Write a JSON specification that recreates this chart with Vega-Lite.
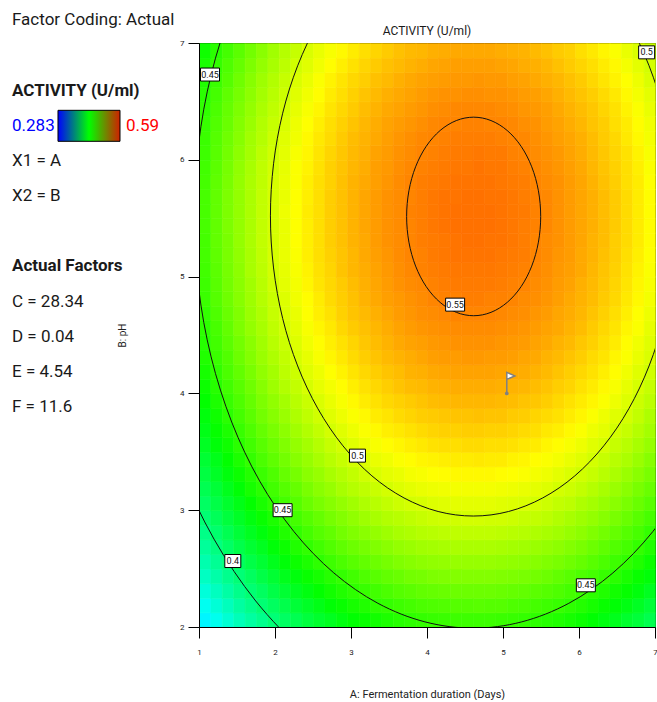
{
"$schema":"https://vega.github.io/schema/vega-lite/v6.json",
"background":"white",
"padding":{"left":12,"top":11,"right":0,"bottom":0},
"config":{"font":"Roboto","view":{"stroke":null},
"axis":{"labelFont":"Roboto","labelFontSize":8,"labelColor":"#222","tickColor":"#000","domainColor":"#000","tickSize":11,"grid":false,"titleFontSize":11,"titleFontWeight":"normal","titleColor":"#222","labelFlush":false,"format":"d"},
"axisX":{"labelPadding":10,"titlePadding":32},
"axisY":{"labelPadding":4,"titlePadding":52,"titleFontSize":10}},
"bounds":"flush",
"spacing":73,
"datasets":{
"legend":[
{"line":0,"g":"a","k":"plain","t":"Factor Coding: Actual"},
{"line":2,"g":"a","k":"head","t":"ACTIVITY (U/ml)"},
{"line":3,"g":"a","k":"low","t":"0.283"},
{"line":3,"g":"b","k":"bar","t":""},
{"line":3,"g":"c","k":"high","t":"0.59"},
{"line":4,"g":"a","k":"plain","t":"X1 = A"},
{"line":5,"g":"a","k":"plain","t":"X2 = B"},
{"line":7,"g":"a","k":"head","t":"Actual Factors"},
{"line":8,"g":"a","k":"plain","t":"C = 28.34"},
{"line":9,"g":"a","k":"plain","t":"D = 0.04"},
{"line":10,"g":"a","k":"plain","t":"E = 4.54"},
{"line":11,"g":"a","k":"plain","t":"F = 11.6"}
],
"grid":[
{"x":1,"y":2,"v":0.357},{"x":1.15,"y":2,"v":0.365},{"x":1.3,"y":2,"v":0.373},{"x":1.45,"y":2,"v":0.381},{"x":1.6,"y":2,"v":0.388},{"x":1.75,"y":2,"v":0.394},{"x":1.9,"y":2,"v":0.401},{"x":2.05,"y":2,"v":0.407},{"x":2.2,"y":2,"v":0.412},{"x":2.35,"y":2,"v":0.418},{"x":2.5,"y":2,"v":0.423},{"x":2.65,"y":2,"v":0.427},{"x":2.8,"y":2,"v":0.432},{"x":2.95,"y":2,"v":0.436},{"x":3.1,"y":2,"v":0.439},{"x":3.25,"y":2,"v":0.442},{"x":3.4,"y":2,"v":0.445},{"x":3.55,"y":2,"v":0.448},{"x":3.7,"y":2,"v":0.45},{"x":3.85,"y":2,"v":0.452},{"x":4,"y":2,"v":0.453},{"x":4.15,"y":2,"v":0.454},{"x":4.3,"y":2,"v":0.455},{"x":4.45,"y":2,"v":0.455},{"x":4.6,"y":2,"v":0.455},{"x":4.75,"y":2,"v":0.455},{"x":4.9,"y":2,"v":0.454},{"x":5.05,"y":2,"v":0.453},{"x":5.2,"y":2,"v":0.452},{"x":5.35,"y":2,"v":0.45},{"x":5.5,"y":2,"v":0.448},{"x":5.65,"y":2,"v":0.446},{"x":5.8,"y":2,"v":0.443},{"x":5.95,"y":2,"v":0.44},{"x":6.1,"y":2,"v":0.436},{"x":6.25,"y":2,"v":0.432},{"x":6.4,"y":2,"v":0.428},{"x":6.55,"y":2,"v":0.423},{"x":6.7,"y":2,"v":0.419},{"x":6.85,"y":2,"v":0.413},
{"x":1,"y":2.125,"v":0.364},{"x":1.15,"y":2.125,"v":0.372},{"x":1.3,"y":2.125,"v":0.38},{"x":1.45,"y":2.125,"v":0.388},{"x":1.6,"y":2.125,"v":0.395},{"x":1.75,"y":2.125,"v":0.402},{"x":1.9,"y":2.125,"v":0.408},{"x":2.05,"y":2.125,"v":0.414},{"x":2.2,"y":2.125,"v":0.42},{"x":2.35,"y":2.125,"v":0.425},{"x":2.5,"y":2.125,"v":0.43},{"x":2.65,"y":2.125,"v":0.435},{"x":2.8,"y":2.125,"v":0.439},{"x":2.95,"y":2.125,"v":0.443},{"x":3.1,"y":2.125,"v":0.446},{"x":3.25,"y":2.125,"v":0.45},{"x":3.4,"y":2.125,"v":0.452},{"x":3.55,"y":2.125,"v":0.455},{"x":3.7,"y":2.125,"v":0.457},{"x":3.85,"y":2.125,"v":0.459},{"x":4,"y":2.125,"v":0.46},{"x":4.15,"y":2.125,"v":0.461},{"x":4.3,"y":2.125,"v":0.462},{"x":4.45,"y":2.125,"v":0.462},{"x":4.6,"y":2.125,"v":0.463},{"x":4.75,"y":2.125,"v":0.462},{"x":4.9,"y":2.125,"v":0.462},{"x":5.05,"y":2.125,"v":0.46},{"x":5.2,"y":2.125,"v":0.459},{"x":5.35,"y":2.125,"v":0.457},{"x":5.5,"y":2.125,"v":0.455},{"x":5.65,"y":2.125,"v":0.453},{"x":5.8,"y":2.125,"v":0.45},{"x":5.95,"y":2.125,"v":0.447},{"x":6.1,"y":2.125,"v":0.443},{"x":6.25,"y":2.125,"v":0.439},{"x":6.4,"y":2.125,"v":0.435},{"x":6.55,"y":2.125,"v":0.431},{"x":6.7,"y":2.125,"v":0.426},{"x":6.85,"y":2.125,"v":0.42},
{"x":1,"y":2.25,"v":0.371},{"x":1.15,"y":2.25,"v":0.379},{"x":1.3,"y":2.25,"v":0.387},{"x":1.45,"y":2.25,"v":0.395},{"x":1.6,"y":2.25,"v":0.402},{"x":1.75,"y":2.25,"v":0.408},{"x":1.9,"y":2.25,"v":0.415},{"x":2.05,"y":2.25,"v":0.421},{"x":2.2,"y":2.25,"v":0.427},{"x":2.35,"y":2.25,"v":0.432},{"x":2.5,"y":2.25,"v":0.437},{"x":2.65,"y":2.25,"v":0.442},{"x":2.8,"y":2.25,"v":0.446},{"x":2.95,"y":2.25,"v":0.45},{"x":3.1,"y":2.25,"v":0.453},{"x":3.25,"y":2.25,"v":0.456},{"x":3.4,"y":2.25,"v":0.459},{"x":3.55,"y":2.25,"v":0.462},{"x":3.7,"y":2.25,"v":0.464},{"x":3.85,"y":2.25,"v":0.466},{"x":4,"y":2.25,"v":0.467},{"x":4.15,"y":2.25,"v":0.468},{"x":4.3,"y":2.25,"v":0.469},{"x":4.45,"y":2.25,"v":0.469},{"x":4.6,"y":2.25,"v":0.469},{"x":4.75,"y":2.25,"v":0.469},{"x":4.9,"y":2.25,"v":0.468},{"x":5.05,"y":2.25,"v":0.467},{"x":5.2,"y":2.25,"v":0.466},{"x":5.35,"y":2.25,"v":0.464},{"x":5.5,"y":2.25,"v":0.462},{"x":5.65,"y":2.25,"v":0.46},{"x":5.8,"y":2.25,"v":0.457},{"x":5.95,"y":2.25,"v":0.454},{"x":6.1,"y":2.25,"v":0.45},{"x":6.25,"y":2.25,"v":0.446},{"x":6.4,"y":2.25,"v":0.442},{"x":6.55,"y":2.25,"v":0.438},{"x":6.7,"y":2.25,"v":0.433},{"x":6.85,"y":2.25,"v":0.427},
{"x":1,"y":2.375,"v":0.378},{"x":1.15,"y":2.375,"v":0.386},{"x":1.3,"y":2.375,"v":0.394},{"x":1.45,"y":2.375,"v":0.401},{"x":1.6,"y":2.375,"v":0.408},{"x":1.75,"y":2.375,"v":0.415},{"x":1.9,"y":2.375,"v":0.421},{"x":2.05,"y":2.375,"v":0.428},{"x":2.2,"y":2.375,"v":0.433},{"x":2.35,"y":2.375,"v":0.439},{"x":2.5,"y":2.375,"v":0.443},{"x":2.65,"y":2.375,"v":0.448},{"x":2.8,"y":2.375,"v":0.452},{"x":2.95,"y":2.375,"v":0.456},{"x":3.1,"y":2.375,"v":0.46},{"x":3.25,"y":2.375,"v":0.463},{"x":3.4,"y":2.375,"v":0.466},{"x":3.55,"y":2.375,"v":0.468},{"x":3.7,"y":2.375,"v":0.471},{"x":3.85,"y":2.375,"v":0.472},{"x":4,"y":2.375,"v":0.474},{"x":4.15,"y":2.375,"v":0.475},{"x":4.3,"y":2.375,"v":0.476},{"x":4.45,"y":2.375,"v":0.476},{"x":4.6,"y":2.375,"v":0.476},{"x":4.75,"y":2.375,"v":0.476},{"x":4.9,"y":2.375,"v":0.475},{"x":5.05,"y":2.375,"v":0.474},{"x":5.2,"y":2.375,"v":0.473},{"x":5.35,"y":2.375,"v":0.471},{"x":5.5,"y":2.375,"v":0.469},{"x":5.65,"y":2.375,"v":0.466},{"x":5.8,"y":2.375,"v":0.463},{"x":5.95,"y":2.375,"v":0.46},{"x":6.1,"y":2.375,"v":0.457},{"x":6.25,"y":2.375,"v":0.453},{"x":6.4,"y":2.375,"v":0.449},{"x":6.55,"y":2.375,"v":0.444},{"x":6.7,"y":2.375,"v":0.439},{"x":6.85,"y":2.375,"v":0.434},
{"x":1,"y":2.5,"v":0.384},{"x":1.15,"y":2.5,"v":0.392},{"x":1.3,"y":2.5,"v":0.4},{"x":1.45,"y":2.5,"v":0.408},{"x":1.6,"y":2.5,"v":0.415},{"x":1.75,"y":2.5,"v":0.421},{"x":1.9,"y":2.5,"v":0.428},{"x":2.05,"y":2.5,"v":0.434},{"x":2.2,"y":2.5,"v":0.44},{"x":2.35,"y":2.5,"v":0.445},{"x":2.5,"y":2.5,"v":0.45},{"x":2.65,"y":2.5,"v":0.455},{"x":2.8,"y":2.5,"v":0.459},{"x":2.95,"y":2.5,"v":0.463},{"x":3.1,"y":2.5,"v":0.466},{"x":3.25,"y":2.5,"v":0.469},{"x":3.4,"y":2.5,"v":0.472},{"x":3.55,"y":2.5,"v":0.475},{"x":3.7,"y":2.5,"v":0.477},{"x":3.85,"y":2.5,"v":0.479},{"x":4,"y":2.5,"v":0.48},{"x":4.15,"y":2.5,"v":0.481},{"x":4.3,"y":2.5,"v":0.482},{"x":4.45,"y":2.5,"v":0.482},{"x":4.6,"y":2.5,"v":0.482},{"x":4.75,"y":2.5,"v":0.482},{"x":4.9,"y":2.5,"v":0.481},{"x":5.05,"y":2.5,"v":0.48},{"x":5.2,"y":2.5,"v":0.479},{"x":5.35,"y":2.5,"v":0.477},{"x":5.5,"y":2.5,"v":0.475},{"x":5.65,"y":2.5,"v":0.473},{"x":5.8,"y":2.5,"v":0.47},{"x":5.95,"y":2.5,"v":0.467},{"x":6.1,"y":2.5,"v":0.463},{"x":6.25,"y":2.5,"v":0.459},{"x":6.4,"y":2.5,"v":0.455},{"x":6.55,"y":2.5,"v":0.451},{"x":6.7,"y":2.5,"v":0.446},{"x":6.85,"y":2.5,"v":0.44},
{"x":1,"y":2.625,"v":0.39},{"x":1.15,"y":2.625,"v":0.398},{"x":1.3,"y":2.625,"v":0.406},{"x":1.45,"y":2.625,"v":0.414},{"x":1.6,"y":2.625,"v":0.421},{"x":1.75,"y":2.625,"v":0.427},{"x":1.9,"y":2.625,"v":0.434},{"x":2.05,"y":2.625,"v":0.44},{"x":2.2,"y":2.625,"v":0.446},{"x":2.35,"y":2.625,"v":0.451},{"x":2.5,"y":2.625,"v":0.456},{"x":2.65,"y":2.625,"v":0.461},{"x":2.8,"y":2.625,"v":0.465},{"x":2.95,"y":2.625,"v":0.469},{"x":3.1,"y":2.625,"v":0.472},{"x":3.25,"y":2.625,"v":0.475},{"x":3.4,"y":2.625,"v":0.478},{"x":3.55,"y":2.625,"v":0.481},{"x":3.7,"y":2.625,"v":0.483},{"x":3.85,"y":2.625,"v":0.485},{"x":4,"y":2.625,"v":0.486},{"x":4.15,"y":2.625,"v":0.487},{"x":4.3,"y":2.625,"v":0.488},{"x":4.45,"y":2.625,"v":0.488},{"x":4.6,"y":2.625,"v":0.488},{"x":4.75,"y":2.625,"v":0.488},{"x":4.9,"y":2.625,"v":0.487},{"x":5.05,"y":2.625,"v":0.486},{"x":5.2,"y":2.625,"v":0.485},{"x":5.35,"y":2.625,"v":0.483},{"x":5.5,"y":2.625,"v":0.481},{"x":5.65,"y":2.625,"v":0.479},{"x":5.8,"y":2.625,"v":0.476},{"x":5.95,"y":2.625,"v":0.473},{"x":6.1,"y":2.625,"v":0.469},{"x":6.25,"y":2.625,"v":0.465},{"x":6.4,"y":2.625,"v":0.461},{"x":6.55,"y":2.625,"v":0.457},{"x":6.7,"y":2.625,"v":0.452},{"x":6.85,"y":2.625,"v":0.446},
{"x":1,"y":2.75,"v":0.396},{"x":1.15,"y":2.75,"v":0.404},{"x":1.3,"y":2.75,"v":0.412},{"x":1.45,"y":2.75,"v":0.42},{"x":1.6,"y":2.75,"v":0.427},{"x":1.75,"y":2.75,"v":0.433},{"x":1.9,"y":2.75,"v":0.44},{"x":2.05,"y":2.75,"v":0.446},{"x":2.2,"y":2.75,"v":0.451},{"x":2.35,"y":2.75,"v":0.457},{"x":2.5,"y":2.75,"v":0.462},{"x":2.65,"y":2.75,"v":0.466},{"x":2.8,"y":2.75,"v":0.471},{"x":2.95,"y":2.75,"v":0.475},{"x":3.1,"y":2.75,"v":0.478},{"x":3.25,"y":2.75,"v":0.481},{"x":3.4,"y":2.75,"v":0.484},{"x":3.55,"y":2.75,"v":0.487},{"x":3.7,"y":2.75,"v":0.489},{"x":3.85,"y":2.75,"v":0.491},{"x":4,"y":2.75,"v":0.492},{"x":4.15,"y":2.75,"v":0.493},{"x":4.3,"y":2.75,"v":0.494},{"x":4.45,"y":2.75,"v":0.494},{"x":4.6,"y":2.75,"v":0.494},{"x":4.75,"y":2.75,"v":0.494},{"x":4.9,"y":2.75,"v":0.493},{"x":5.05,"y":2.75,"v":0.492},{"x":5.2,"y":2.75,"v":0.491},{"x":5.35,"y":2.75,"v":0.489},{"x":5.5,"y":2.75,"v":0.487},{"x":5.65,"y":2.75,"v":0.485},{"x":5.8,"y":2.75,"v":0.482},{"x":5.95,"y":2.75,"v":0.479},{"x":6.1,"y":2.75,"v":0.475},{"x":6.25,"y":2.75,"v":0.471},{"x":6.4,"y":2.75,"v":0.467},{"x":6.55,"y":2.75,"v":0.462},{"x":6.7,"y":2.75,"v":0.458},{"x":6.85,"y":2.75,"v":0.452},
{"x":1,"y":2.875,"v":0.402},{"x":1.15,"y":2.875,"v":0.41},{"x":1.3,"y":2.875,"v":0.418},{"x":1.45,"y":2.875,"v":0.425},{"x":1.6,"y":2.875,"v":0.432},{"x":1.75,"y":2.875,"v":0.439},{"x":1.9,"y":2.875,"v":0.445},{"x":2.05,"y":2.875,"v":0.451},{"x":2.2,"y":2.875,"v":0.457},{"x":2.35,"y":2.875,"v":0.462},{"x":2.5,"y":2.875,"v":0.467},{"x":2.65,"y":2.875,"v":0.472},{"x":2.8,"y":2.875,"v":0.476},{"x":2.95,"y":2.875,"v":0.48},{"x":3.1,"y":2.875,"v":0.484},{"x":3.25,"y":2.875,"v":0.487},{"x":3.4,"y":2.875,"v":0.49},{"x":3.55,"y":2.875,"v":0.492},{"x":3.7,"y":2.875,"v":0.494},{"x":3.85,"y":2.875,"v":0.496},{"x":4,"y":2.875,"v":0.498},{"x":4.15,"y":2.875,"v":0.499},{"x":4.3,"y":2.875,"v":0.499},{"x":4.45,"y":2.875,"v":0.5},{"x":4.6,"y":2.875,"v":0.5},{"x":4.75,"y":2.875,"v":0.499},{"x":4.9,"y":2.875,"v":0.499},{"x":5.05,"y":2.875,"v":0.498},{"x":5.2,"y":2.875,"v":0.496},{"x":5.35,"y":2.875,"v":0.495},{"x":5.5,"y":2.875,"v":0.493},{"x":5.65,"y":2.875,"v":0.49},{"x":5.8,"y":2.875,"v":0.487},{"x":5.95,"y":2.875,"v":0.484},{"x":6.1,"y":2.875,"v":0.481},{"x":6.25,"y":2.875,"v":0.477},{"x":6.4,"y":2.875,"v":0.473},{"x":6.55,"y":2.875,"v":0.468},{"x":6.7,"y":2.875,"v":0.463},{"x":6.85,"y":2.875,"v":0.458},
{"x":1,"y":3,"v":0.407},{"x":1.15,"y":3,"v":0.415},{"x":1.3,"y":3,"v":0.423},{"x":1.45,"y":3,"v":0.43},{"x":1.6,"y":3,"v":0.437},{"x":1.75,"y":3,"v":0.444},{"x":1.9,"y":3,"v":0.451},{"x":2.05,"y":3,"v":0.457},{"x":2.2,"y":3,"v":0.462},{"x":2.35,"y":3,"v":0.468},{"x":2.5,"y":3,"v":0.473},{"x":2.65,"y":3,"v":0.477},{"x":2.8,"y":3,"v":0.481},{"x":2.95,"y":3,"v":0.485},{"x":3.1,"y":3,"v":0.489},{"x":3.25,"y":3,"v":0.492},{"x":3.4,"y":3,"v":0.495},{"x":3.55,"y":3,"v":0.498},{"x":3.7,"y":3,"v":0.5},{"x":3.85,"y":3,"v":0.501},{"x":4,"y":3,"v":0.503},{"x":4.15,"y":3,"v":0.504},{"x":4.3,"y":3,"v":0.505},{"x":4.45,"y":3,"v":0.505},{"x":4.6,"y":3,"v":0.505},{"x":4.75,"y":3,"v":0.505},{"x":4.9,"y":3,"v":0.504},{"x":5.05,"y":3,"v":0.503},{"x":5.2,"y":3,"v":0.502},{"x":5.35,"y":3,"v":0.5},{"x":5.5,"y":3,"v":0.498},{"x":5.65,"y":3,"v":0.495},{"x":5.8,"y":3,"v":0.493},{"x":5.95,"y":3,"v":0.489},{"x":6.1,"y":3,"v":0.486},{"x":6.25,"y":3,"v":0.482},{"x":6.4,"y":3,"v":0.478},{"x":6.55,"y":3,"v":0.473},{"x":6.7,"y":3,"v":0.468},{"x":6.85,"y":3,"v":0.463},
{"x":1,"y":3.125,"v":0.412},{"x":1.15,"y":3.125,"v":0.42},{"x":1.3,"y":3.125,"v":0.428},{"x":1.45,"y":3.125,"v":0.435},{"x":1.6,"y":3.125,"v":0.443},{"x":1.75,"y":3.125,"v":0.449},{"x":1.9,"y":3.125,"v":0.456},{"x":2.05,"y":3.125,"v":0.462},{"x":2.2,"y":3.125,"v":0.467},{"x":2.35,"y":3.125,"v":0.473},{"x":2.5,"y":3.125,"v":0.478},{"x":2.65,"y":3.125,"v":0.482},{"x":2.8,"y":3.125,"v":0.487},{"x":2.95,"y":3.125,"v":0.491},{"x":3.1,"y":3.125,"v":0.494},{"x":3.25,"y":3.125,"v":0.497},{"x":3.4,"y":3.125,"v":0.5},{"x":3.55,"y":3.125,"v":0.503},{"x":3.7,"y":3.125,"v":0.505},{"x":3.85,"y":3.125,"v":0.507},{"x":4,"y":3.125,"v":0.508},{"x":4.15,"y":3.125,"v":0.509},{"x":4.3,"y":3.125,"v":0.51},{"x":4.45,"y":3.125,"v":0.51},{"x":4.6,"y":3.125,"v":0.51},{"x":4.75,"y":3.125,"v":0.51},{"x":4.9,"y":3.125,"v":0.509},{"x":5.05,"y":3.125,"v":0.508},{"x":5.2,"y":3.125,"v":0.507},{"x":5.35,"y":3.125,"v":0.505},{"x":5.5,"y":3.125,"v":0.503},{"x":5.65,"y":3.125,"v":0.5},{"x":5.8,"y":3.125,"v":0.498},{"x":5.95,"y":3.125,"v":0.495},{"x":6.1,"y":3.125,"v":0.491},{"x":6.25,"y":3.125,"v":0.487},{"x":6.4,"y":3.125,"v":0.483},{"x":6.55,"y":3.125,"v":0.478},{"x":6.7,"y":3.125,"v":0.473},{"x":6.85,"y":3.125,"v":0.468},
{"x":1,"y":3.25,"v":0.417},{"x":1.15,"y":3.25,"v":0.425},{"x":1.3,"y":3.25,"v":0.433},{"x":1.45,"y":3.25,"v":0.44},{"x":1.6,"y":3.25,"v":0.447},{"x":1.75,"y":3.25,"v":0.454},{"x":1.9,"y":3.25,"v":0.46},{"x":2.05,"y":3.25,"v":0.467},{"x":2.2,"y":3.25,"v":0.472},{"x":2.35,"y":3.25,"v":0.478},{"x":2.5,"y":3.25,"v":0.482},{"x":2.65,"y":3.25,"v":0.487},{"x":2.8,"y":3.25,"v":0.491},{"x":2.95,"y":3.25,"v":0.495},{"x":3.1,"y":3.25,"v":0.499},{"x":3.25,"y":3.25,"v":0.502},{"x":3.4,"y":3.25,"v":0.505},{"x":3.55,"y":3.25,"v":0.507},{"x":3.7,"y":3.25,"v":0.51},{"x":3.85,"y":3.25,"v":0.511},{"x":4,"y":3.25,"v":0.513},{"x":4.15,"y":3.25,"v":0.514},{"x":4.3,"y":3.25,"v":0.515},{"x":4.45,"y":3.25,"v":0.515},{"x":4.6,"y":3.25,"v":0.515},{"x":4.75,"y":3.25,"v":0.515},{"x":4.9,"y":3.25,"v":0.514},{"x":5.05,"y":3.25,"v":0.513},{"x":5.2,"y":3.25,"v":0.512},{"x":5.35,"y":3.25,"v":0.51},{"x":5.5,"y":3.25,"v":0.508},{"x":5.65,"y":3.25,"v":0.505},{"x":5.8,"y":3.25,"v":0.502},{"x":5.95,"y":3.25,"v":0.499},{"x":6.1,"y":3.25,"v":0.496},{"x":6.25,"y":3.25,"v":0.492},{"x":6.4,"y":3.25,"v":0.488},{"x":6.55,"y":3.25,"v":0.483},{"x":6.7,"y":3.25,"v":0.478},{"x":6.85,"y":3.25,"v":0.473},
{"x":1,"y":3.375,"v":0.421},{"x":1.15,"y":3.375,"v":0.429},{"x":1.3,"y":3.375,"v":0.437},{"x":1.45,"y":3.375,"v":0.445},{"x":1.6,"y":3.375,"v":0.452},{"x":1.75,"y":3.375,"v":0.459},{"x":1.9,"y":3.375,"v":0.465},{"x":2.05,"y":3.375,"v":0.471},{"x":2.2,"y":3.375,"v":0.477},{"x":2.35,"y":3.375,"v":0.482},{"x":2.5,"y":3.375,"v":0.487},{"x":2.65,"y":3.375,"v":0.492},{"x":2.8,"y":3.375,"v":0.496},{"x":2.95,"y":3.375,"v":0.5},{"x":3.1,"y":3.375,"v":0.503},{"x":3.25,"y":3.375,"v":0.507},{"x":3.4,"y":3.375,"v":0.509},{"x":3.55,"y":3.375,"v":0.512},{"x":3.7,"y":3.375,"v":0.514},{"x":3.85,"y":3.375,"v":0.516},{"x":4,"y":3.375,"v":0.517},{"x":4.15,"y":3.375,"v":0.518},{"x":4.3,"y":3.375,"v":0.519},{"x":4.45,"y":3.375,"v":0.519},{"x":4.6,"y":3.375,"v":0.52},{"x":4.75,"y":3.375,"v":0.519},{"x":4.9,"y":3.375,"v":0.519},{"x":5.05,"y":3.375,"v":0.517},{"x":5.2,"y":3.375,"v":0.516},{"x":5.35,"y":3.375,"v":0.514},{"x":5.5,"y":3.375,"v":0.512},{"x":5.65,"y":3.375,"v":0.51},{"x":5.8,"y":3.375,"v":0.507},{"x":5.95,"y":3.375,"v":0.504},{"x":6.1,"y":3.375,"v":0.5},{"x":6.25,"y":3.375,"v":0.496},{"x":6.4,"y":3.375,"v":0.492},{"x":6.55,"y":3.375,"v":0.488},{"x":6.7,"y":3.375,"v":0.483},{"x":6.85,"y":3.375,"v":0.477},
{"x":1,"y":3.5,"v":0.426},{"x":1.15,"y":3.5,"v":0.434},{"x":1.3,"y":3.5,"v":0.441},{"x":1.45,"y":3.5,"v":0.449},{"x":1.6,"y":3.5,"v":0.456},{"x":1.75,"y":3.5,"v":0.463},{"x":1.9,"y":3.5,"v":0.469},{"x":2.05,"y":3.5,"v":0.475},{"x":2.2,"y":3.5,"v":0.481},{"x":2.35,"y":3.5,"v":0.486},{"x":2.5,"y":3.5,"v":0.491},{"x":2.65,"y":3.5,"v":0.496},{"x":2.8,"y":3.5,"v":0.5},{"x":2.95,"y":3.5,"v":0.504},{"x":3.1,"y":3.5,"v":0.508},{"x":3.25,"y":3.5,"v":0.511},{"x":3.4,"y":3.5,"v":0.514},{"x":3.55,"y":3.5,"v":0.516},{"x":3.7,"y":3.5,"v":0.518},{"x":3.85,"y":3.5,"v":0.52},{"x":4,"y":3.5,"v":0.522},{"x":4.15,"y":3.5,"v":0.523},{"x":4.3,"y":3.5,"v":0.523},{"x":4.45,"y":3.5,"v":0.524},{"x":4.6,"y":3.5,"v":0.524},{"x":4.75,"y":3.5,"v":0.523},{"x":4.9,"y":3.5,"v":0.523},{"x":5.05,"y":3.5,"v":0.522},{"x":5.2,"y":3.5,"v":0.52},{"x":5.35,"y":3.5,"v":0.519},{"x":5.5,"y":3.5,"v":0.516},{"x":5.65,"y":3.5,"v":0.514},{"x":5.8,"y":3.5,"v":0.511},{"x":5.95,"y":3.5,"v":0.508},{"x":6.1,"y":3.5,"v":0.504},{"x":6.25,"y":3.5,"v":0.501},{"x":6.4,"y":3.5,"v":0.496},{"x":6.55,"y":3.5,"v":0.492},{"x":6.7,"y":3.5,"v":0.487},{"x":6.85,"y":3.5,"v":0.482},
{"x":1,"y":3.625,"v":0.43},{"x":1.15,"y":3.625,"v":0.438},{"x":1.3,"y":3.625,"v":0.445},{"x":1.45,"y":3.625,"v":0.453},{"x":1.6,"y":3.625,"v":0.46},{"x":1.75,"y":3.625,"v":0.467},{"x":1.9,"y":3.625,"v":0.473},{"x":2.05,"y":3.625,"v":0.479},{"x":2.2,"y":3.625,"v":0.485},{"x":2.35,"y":3.625,"v":0.49},{"x":2.5,"y":3.625,"v":0.495},{"x":2.65,"y":3.625,"v":0.5},{"x":2.8,"y":3.625,"v":0.504},{"x":2.95,"y":3.625,"v":0.508},{"x":3.1,"y":3.625,"v":0.512},{"x":3.25,"y":3.625,"v":0.515},{"x":3.4,"y":3.625,"v":0.518},{"x":3.55,"y":3.625,"v":0.52},{"x":3.7,"y":3.625,"v":0.522},{"x":3.85,"y":3.625,"v":0.524},{"x":4,"y":3.625,"v":0.526},{"x":4.15,"y":3.625,"v":0.527},{"x":4.3,"y":3.625,"v":0.527},{"x":4.45,"y":3.625,"v":0.528},{"x":4.6,"y":3.625,"v":0.528},{"x":4.75,"y":3.625,"v":0.527},{"x":4.9,"y":3.625,"v":0.527},{"x":5.05,"y":3.625,"v":0.526},{"x":5.2,"y":3.625,"v":0.524},{"x":5.35,"y":3.625,"v":0.523},{"x":5.5,"y":3.625,"v":0.52},{"x":5.65,"y":3.625,"v":0.518},{"x":5.8,"y":3.625,"v":0.515},{"x":5.95,"y":3.625,"v":0.512},{"x":6.1,"y":3.625,"v":0.508},{"x":6.25,"y":3.625,"v":0.505},{"x":6.4,"y":3.625,"v":0.5},{"x":6.55,"y":3.625,"v":0.496},{"x":6.7,"y":3.625,"v":0.491},{"x":6.85,"y":3.625,"v":0.486},
{"x":1,"y":3.75,"v":0.433},{"x":1.15,"y":3.75,"v":0.441},{"x":1.3,"y":3.75,"v":0.449},{"x":1.45,"y":3.75,"v":0.457},{"x":1.6,"y":3.75,"v":0.464},{"x":1.75,"y":3.75,"v":0.471},{"x":1.9,"y":3.75,"v":0.477},{"x":2.05,"y":3.75,"v":0.483},{"x":2.2,"y":3.75,"v":0.489},{"x":2.35,"y":3.75,"v":0.494},{"x":2.5,"y":3.75,"v":0.499},{"x":2.65,"y":3.75,"v":0.504},{"x":2.8,"y":3.75,"v":0.508},{"x":2.95,"y":3.75,"v":0.512},{"x":3.1,"y":3.75,"v":0.515},{"x":3.25,"y":3.75,"v":0.519},{"x":3.4,"y":3.75,"v":0.521},{"x":3.55,"y":3.75,"v":0.524},{"x":3.7,"y":3.75,"v":0.526},{"x":3.85,"y":3.75,"v":0.528},{"x":4,"y":3.75,"v":0.529},{"x":4.15,"y":3.75,"v":0.53},{"x":4.3,"y":3.75,"v":0.531},{"x":4.45,"y":3.75,"v":0.531},{"x":4.6,"y":3.75,"v":0.532},{"x":4.75,"y":3.75,"v":0.531},{"x":4.9,"y":3.75,"v":0.531},{"x":5.05,"y":3.75,"v":0.529},{"x":5.2,"y":3.75,"v":0.528},{"x":5.35,"y":3.75,"v":0.526},{"x":5.5,"y":3.75,"v":0.524},{"x":5.65,"y":3.75,"v":0.522},{"x":5.8,"y":3.75,"v":0.519},{"x":5.95,"y":3.75,"v":0.516},{"x":6.1,"y":3.75,"v":0.512},{"x":6.25,"y":3.75,"v":0.508},{"x":6.4,"y":3.75,"v":0.504},{"x":6.55,"y":3.75,"v":0.5},{"x":6.7,"y":3.75,"v":0.495},{"x":6.85,"y":3.75,"v":0.489},
{"x":1,"y":3.875,"v":0.437},{"x":1.15,"y":3.875,"v":0.445},{"x":1.3,"y":3.875,"v":0.453},{"x":1.45,"y":3.875,"v":0.46},{"x":1.6,"y":3.875,"v":0.467},{"x":1.75,"y":3.875,"v":0.474},{"x":1.9,"y":3.875,"v":0.48},{"x":2.05,"y":3.875,"v":0.486},{"x":2.2,"y":3.875,"v":0.492},{"x":2.35,"y":3.875,"v":0.497},{"x":2.5,"y":3.875,"v":0.502},{"x":2.65,"y":3.875,"v":0.507},{"x":2.8,"y":3.875,"v":0.511},{"x":2.95,"y":3.875,"v":0.515},{"x":3.1,"y":3.875,"v":0.519},{"x":3.25,"y":3.875,"v":0.522},{"x":3.4,"y":3.875,"v":0.525},{"x":3.55,"y":3.875,"v":0.527},{"x":3.7,"y":3.875,"v":0.529},{"x":3.85,"y":3.875,"v":0.531},{"x":4,"y":3.875,"v":0.533},{"x":4.15,"y":3.875,"v":0.534},{"x":4.3,"y":3.875,"v":0.535},{"x":4.45,"y":3.875,"v":0.535},{"x":4.6,"y":3.875,"v":0.535},{"x":4.75,"y":3.875,"v":0.535},{"x":4.9,"y":3.875,"v":0.534},{"x":5.05,"y":3.875,"v":0.533},{"x":5.2,"y":3.875,"v":0.531},{"x":5.35,"y":3.875,"v":0.53},{"x":5.5,"y":3.875,"v":0.528},{"x":5.65,"y":3.875,"v":0.525},{"x":5.8,"y":3.875,"v":0.522},{"x":5.95,"y":3.875,"v":0.519},{"x":6.1,"y":3.875,"v":0.516},{"x":6.25,"y":3.875,"v":0.512},{"x":6.4,"y":3.875,"v":0.508},{"x":6.55,"y":3.875,"v":0.503},{"x":6.7,"y":3.875,"v":0.498},{"x":6.85,"y":3.875,"v":0.493},
{"x":1,"y":4,"v":0.44},{"x":1.15,"y":4,"v":0.448},{"x":1.3,"y":4,"v":0.456},{"x":1.45,"y":4,"v":0.463},{"x":1.6,"y":4,"v":0.47},{"x":1.75,"y":4,"v":0.477},{"x":1.9,"y":4,"v":0.484},{"x":2.05,"y":4,"v":0.49},{"x":2.2,"y":4,"v":0.495},{"x":2.35,"y":4,"v":0.501},{"x":2.5,"y":4,"v":0.506},{"x":2.65,"y":4,"v":0.51},{"x":2.8,"y":4,"v":0.514},{"x":2.95,"y":4,"v":0.518},{"x":3.1,"y":4,"v":0.522},{"x":3.25,"y":4,"v":0.525},{"x":3.4,"y":4,"v":0.528},{"x":3.55,"y":4,"v":0.531},{"x":3.7,"y":4,"v":0.533},{"x":3.85,"y":4,"v":0.534},{"x":4,"y":4,"v":0.536},{"x":4.15,"y":4,"v":0.537},{"x":4.3,"y":4,"v":0.538},{"x":4.45,"y":4,"v":0.538},{"x":4.6,"y":4,"v":0.538},{"x":4.75,"y":4,"v":0.538},{"x":4.9,"y":4,"v":0.537},{"x":5.05,"y":4,"v":0.536},{"x":5.2,"y":4,"v":0.535},{"x":5.35,"y":4,"v":0.533},{"x":5.5,"y":4,"v":0.531},{"x":5.65,"y":4,"v":0.528},{"x":5.8,"y":4,"v":0.526},{"x":5.95,"y":4,"v":0.522},{"x":6.1,"y":4,"v":0.519},{"x":6.25,"y":4,"v":0.515},{"x":6.4,"y":4,"v":0.511},{"x":6.55,"y":4,"v":0.506},{"x":6.7,"y":4,"v":0.501},{"x":6.85,"y":4,"v":0.496},
{"x":1,"y":4.125,"v":0.443},{"x":1.15,"y":4.125,"v":0.451},{"x":1.3,"y":4.125,"v":0.459},{"x":1.45,"y":4.125,"v":0.466},{"x":1.6,"y":4.125,"v":0.473},{"x":1.75,"y":4.125,"v":0.48},{"x":1.9,"y":4.125,"v":0.486},{"x":2.05,"y":4.125,"v":0.493},{"x":2.2,"y":4.125,"v":0.498},{"x":2.35,"y":4.125,"v":0.504},{"x":2.5,"y":4.125,"v":0.508},{"x":2.65,"y":4.125,"v":0.513},{"x":2.8,"y":4.125,"v":0.517},{"x":2.95,"y":4.125,"v":0.521},{"x":3.1,"y":4.125,"v":0.525},{"x":3.25,"y":4.125,"v":0.528},{"x":3.4,"y":4.125,"v":0.531},{"x":3.55,"y":4.125,"v":0.533},{"x":3.7,"y":4.125,"v":0.536},{"x":3.85,"y":4.125,"v":0.537},{"x":4,"y":4.125,"v":0.539},{"x":4.15,"y":4.125,"v":0.54},{"x":4.3,"y":4.125,"v":0.541},{"x":4.45,"y":4.125,"v":0.541},{"x":4.6,"y":4.125,"v":0.541},{"x":4.75,"y":4.125,"v":0.541},{"x":4.9,"y":4.125,"v":0.54},{"x":5.05,"y":4.125,"v":0.539},{"x":5.2,"y":4.125,"v":0.538},{"x":5.35,"y":4.125,"v":0.536},{"x":5.5,"y":4.125,"v":0.534},{"x":5.65,"y":4.125,"v":0.531},{"x":5.8,"y":4.125,"v":0.528},{"x":5.95,"y":4.125,"v":0.525},{"x":6.1,"y":4.125,"v":0.522},{"x":6.25,"y":4.125,"v":0.518},{"x":6.4,"y":4.125,"v":0.514},{"x":6.55,"y":4.125,"v":0.509},{"x":6.7,"y":4.125,"v":0.504},{"x":6.85,"y":4.125,"v":0.499},
{"x":1,"y":4.25,"v":0.446},{"x":1.15,"y":4.25,"v":0.454},{"x":1.3,"y":4.25,"v":0.461},{"x":1.45,"y":4.25,"v":0.469},{"x":1.6,"y":4.25,"v":0.476},{"x":1.75,"y":4.25,"v":0.483},{"x":1.9,"y":4.25,"v":0.489},{"x":2.05,"y":4.25,"v":0.495},{"x":2.2,"y":4.25,"v":0.501},{"x":2.35,"y":4.25,"v":0.506},{"x":2.5,"y":4.25,"v":0.511},{"x":2.65,"y":4.25,"v":0.516},{"x":2.8,"y":4.25,"v":0.52},{"x":2.95,"y":4.25,"v":0.524},{"x":3.1,"y":4.25,"v":0.528},{"x":3.25,"y":4.25,"v":0.531},{"x":3.4,"y":4.25,"v":0.534},{"x":3.55,"y":4.25,"v":0.536},{"x":3.7,"y":4.25,"v":0.538},{"x":3.85,"y":4.25,"v":0.54},{"x":4,"y":4.25,"v":0.542},{"x":4.15,"y":4.25,"v":0.543},{"x":4.3,"y":4.25,"v":0.543},{"x":4.45,"y":4.25,"v":0.544},{"x":4.6,"y":4.25,"v":0.544},{"x":4.75,"y":4.25,"v":0.543},{"x":4.9,"y":4.25,"v":0.543},{"x":5.05,"y":4.25,"v":0.542},{"x":5.2,"y":4.25,"v":0.54},{"x":5.35,"y":4.25,"v":0.539},{"x":5.5,"y":4.25,"v":0.536},{"x":5.65,"y":4.25,"v":0.534},{"x":5.8,"y":4.25,"v":0.531},{"x":5.95,"y":4.25,"v":0.528},{"x":6.1,"y":4.25,"v":0.524},{"x":6.25,"y":4.25,"v":0.521},{"x":6.4,"y":4.25,"v":0.516},{"x":6.55,"y":4.25,"v":0.512},{"x":6.7,"y":4.25,"v":0.507},{"x":6.85,"y":4.25,"v":0.502},
{"x":1,"y":4.375,"v":0.448},{"x":1.15,"y":4.375,"v":0.456},{"x":1.3,"y":4.375,"v":0.464},{"x":1.45,"y":4.375,"v":0.471},{"x":1.6,"y":4.375,"v":0.478},{"x":1.75,"y":4.375,"v":0.485},{"x":1.9,"y":4.375,"v":0.492},{"x":2.05,"y":4.375,"v":0.498},{"x":2.2,"y":4.375,"v":0.503},{"x":2.35,"y":4.375,"v":0.509},{"x":2.5,"y":4.375,"v":0.514},{"x":2.65,"y":4.375,"v":0.518},{"x":2.8,"y":4.375,"v":0.522},{"x":2.95,"y":4.375,"v":0.526},{"x":3.1,"y":4.375,"v":0.53},{"x":3.25,"y":4.375,"v":0.533},{"x":3.4,"y":4.375,"v":0.536},{"x":3.55,"y":4.375,"v":0.539},{"x":3.7,"y":4.375,"v":0.541},{"x":3.85,"y":4.375,"v":0.542},{"x":4,"y":4.375,"v":0.544},{"x":4.15,"y":4.375,"v":0.545},{"x":4.3,"y":4.375,"v":0.546},{"x":4.45,"y":4.375,"v":0.546},{"x":4.6,"y":4.375,"v":0.546},{"x":4.75,"y":4.375,"v":0.546},{"x":4.9,"y":4.375,"v":0.545},{"x":5.05,"y":4.375,"v":0.544},{"x":5.2,"y":4.375,"v":0.543},{"x":5.35,"y":4.375,"v":0.541},{"x":5.5,"y":4.375,"v":0.539},{"x":5.65,"y":4.375,"v":0.536},{"x":5.8,"y":4.375,"v":0.534},{"x":5.95,"y":4.375,"v":0.53},{"x":6.1,"y":4.375,"v":0.527},{"x":6.25,"y":4.375,"v":0.523},{"x":6.4,"y":4.375,"v":0.519},{"x":6.55,"y":4.375,"v":0.514},{"x":6.7,"y":4.375,"v":0.509},{"x":6.85,"y":4.375,"v":0.504},
{"x":1,"y":4.5,"v":0.45},{"x":1.15,"y":4.5,"v":0.458},{"x":1.3,"y":4.5,"v":0.466},{"x":1.45,"y":4.5,"v":0.474},{"x":1.6,"y":4.5,"v":0.481},{"x":1.75,"y":4.5,"v":0.487},{"x":1.9,"y":4.5,"v":0.494},{"x":2.05,"y":4.5,"v":0.5},{"x":2.2,"y":4.5,"v":0.505},{"x":2.35,"y":4.5,"v":0.511},{"x":2.5,"y":4.5,"v":0.516},{"x":2.65,"y":4.5,"v":0.52},{"x":2.8,"y":4.5,"v":0.525},{"x":2.95,"y":4.5,"v":0.529},{"x":3.1,"y":4.5,"v":0.532},{"x":3.25,"y":4.5,"v":0.535},{"x":3.4,"y":4.5,"v":0.538},{"x":3.55,"y":4.5,"v":0.541},{"x":3.7,"y":4.5,"v":0.543},{"x":3.85,"y":4.5,"v":0.545},{"x":4,"y":4.5,"v":0.546},{"x":4.15,"y":4.5,"v":0.547},{"x":4.3,"y":4.5,"v":0.548},{"x":4.45,"y":4.5,"v":0.548},{"x":4.6,"y":4.5,"v":0.548},{"x":4.75,"y":4.5,"v":0.548},{"x":4.9,"y":4.5,"v":0.547},{"x":5.05,"y":4.5,"v":0.546},{"x":5.2,"y":4.5,"v":0.545},{"x":5.35,"y":4.5,"v":0.543},{"x":5.5,"y":4.5,"v":0.541},{"x":5.65,"y":4.5,"v":0.539},{"x":5.8,"y":4.5,"v":0.536},{"x":5.95,"y":4.5,"v":0.533},{"x":6.1,"y":4.5,"v":0.529},{"x":6.25,"y":4.5,"v":0.525},{"x":6.4,"y":4.5,"v":0.521},{"x":6.55,"y":4.5,"v":0.516},{"x":6.7,"y":4.5,"v":0.512},{"x":6.85,"y":4.5,"v":0.506},
{"x":1,"y":4.625,"v":0.452},{"x":1.15,"y":4.625,"v":0.46},{"x":1.3,"y":4.625,"v":0.468},{"x":1.45,"y":4.625,"v":0.475},{"x":1.6,"y":4.625,"v":0.483},{"x":1.75,"y":4.625,"v":0.489},{"x":1.9,"y":4.625,"v":0.496},{"x":2.05,"y":4.625,"v":0.502},{"x":2.2,"y":4.625,"v":0.507},{"x":2.35,"y":4.625,"v":0.513},{"x":2.5,"y":4.625,"v":0.518},{"x":2.65,"y":4.625,"v":0.522},{"x":2.8,"y":4.625,"v":0.527},{"x":2.95,"y":4.625,"v":0.531},{"x":3.1,"y":4.625,"v":0.534},{"x":3.25,"y":4.625,"v":0.537},{"x":3.4,"y":4.625,"v":0.54},{"x":3.55,"y":4.625,"v":0.543},{"x":3.7,"y":4.625,"v":0.545},{"x":3.85,"y":4.625,"v":0.547},{"x":4,"y":4.625,"v":0.548},{"x":4.15,"y":4.625,"v":0.549},{"x":4.3,"y":4.625,"v":0.55},{"x":4.45,"y":4.625,"v":0.55},{"x":4.6,"y":4.625,"v":0.55},{"x":4.75,"y":4.625,"v":0.55},{"x":4.9,"y":4.625,"v":0.549},{"x":5.05,"y":4.625,"v":0.548},{"x":5.2,"y":4.625,"v":0.547},{"x":5.35,"y":4.625,"v":0.545},{"x":5.5,"y":4.625,"v":0.543},{"x":5.65,"y":4.625,"v":0.54},{"x":5.8,"y":4.625,"v":0.538},{"x":5.95,"y":4.625,"v":0.535},{"x":6.1,"y":4.625,"v":0.531},{"x":6.25,"y":4.625,"v":0.527},{"x":6.4,"y":4.625,"v":0.523},{"x":6.55,"y":4.625,"v":0.518},{"x":6.7,"y":4.625,"v":0.513},{"x":6.85,"y":4.625,"v":0.508},
{"x":1,"y":4.75,"v":0.454},{"x":1.15,"y":4.75,"v":0.462},{"x":1.3,"y":4.75,"v":0.47},{"x":1.45,"y":4.75,"v":0.477},{"x":1.6,"y":4.75,"v":0.484},{"x":1.75,"y":4.75,"v":0.491},{"x":1.9,"y":4.75,"v":0.497},{"x":2.05,"y":4.75,"v":0.503},{"x":2.2,"y":4.75,"v":0.509},{"x":2.35,"y":4.75,"v":0.514},{"x":2.5,"y":4.75,"v":0.519},{"x":2.65,"y":4.75,"v":0.524},{"x":2.8,"y":4.75,"v":0.528},{"x":2.95,"y":4.75,"v":0.532},{"x":3.1,"y":4.75,"v":0.536},{"x":3.25,"y":4.75,"v":0.539},{"x":3.4,"y":4.75,"v":0.542},{"x":3.55,"y":4.75,"v":0.544},{"x":3.7,"y":4.75,"v":0.546},{"x":3.85,"y":4.75,"v":0.548},{"x":4,"y":4.75,"v":0.55},{"x":4.15,"y":4.75,"v":0.551},{"x":4.3,"y":4.75,"v":0.551},{"x":4.45,"y":4.75,"v":0.552},{"x":4.6,"y":4.75,"v":0.552},{"x":4.75,"y":4.75,"v":0.551},{"x":4.9,"y":4.75,"v":0.551},{"x":5.05,"y":4.75,"v":0.55},{"x":5.2,"y":4.75,"v":0.548},{"x":5.35,"y":4.75,"v":0.547},{"x":5.5,"y":4.75,"v":0.545},{"x":5.65,"y":4.75,"v":0.542},{"x":5.8,"y":4.75,"v":0.539},{"x":5.95,"y":4.75,"v":0.536},{"x":6.1,"y":4.75,"v":0.533},{"x":6.25,"y":4.75,"v":0.529},{"x":6.4,"y":4.75,"v":0.525},{"x":6.55,"y":4.75,"v":0.52},{"x":6.7,"y":4.75,"v":0.515},{"x":6.85,"y":4.75,"v":0.51},
{"x":1,"y":4.875,"v":0.455},{"x":1.15,"y":4.875,"v":0.463},{"x":1.3,"y":4.875,"v":0.471},{"x":1.45,"y":4.875,"v":0.478},{"x":1.6,"y":4.875,"v":0.485},{"x":1.75,"y":4.875,"v":0.492},{"x":1.9,"y":4.875,"v":0.499},{"x":2.05,"y":4.875,"v":0.505},{"x":2.2,"y":4.875,"v":0.51},{"x":2.35,"y":4.875,"v":0.516},{"x":2.5,"y":4.875,"v":0.521},{"x":2.65,"y":4.875,"v":0.525},{"x":2.8,"y":4.875,"v":0.529},{"x":2.95,"y":4.875,"v":0.533},{"x":3.1,"y":4.875,"v":0.537},{"x":3.25,"y":4.875,"v":0.54},{"x":3.4,"y":4.875,"v":0.543},{"x":3.55,"y":4.875,"v":0.546},{"x":3.7,"y":4.875,"v":0.548},{"x":3.85,"y":4.875,"v":0.549},{"x":4,"y":4.875,"v":0.551},{"x":4.15,"y":4.875,"v":0.552},{"x":4.3,"y":4.875,"v":0.553},{"x":4.45,"y":4.875,"v":0.553},{"x":4.6,"y":4.875,"v":0.553},{"x":4.75,"y":4.875,"v":0.553},{"x":4.9,"y":4.875,"v":0.552},{"x":5.05,"y":4.875,"v":0.551},{"x":5.2,"y":4.875,"v":0.55},{"x":5.35,"y":4.875,"v":0.548},{"x":5.5,"y":4.875,"v":0.546},{"x":5.65,"y":4.875,"v":0.543},{"x":5.8,"y":4.875,"v":0.541},{"x":5.95,"y":4.875,"v":0.537},{"x":6.1,"y":4.875,"v":0.534},{"x":6.25,"y":4.875,"v":0.53},{"x":6.4,"y":4.875,"v":0.526},{"x":6.55,"y":4.875,"v":0.521},{"x":6.7,"y":4.875,"v":0.516},{"x":6.85,"y":4.875,"v":0.511},
{"x":1,"y":5,"v":0.456},{"x":1.15,"y":5,"v":0.464},{"x":1.3,"y":5,"v":0.472},{"x":1.45,"y":5,"v":0.479},{"x":1.6,"y":5,"v":0.487},{"x":1.75,"y":5,"v":0.493},{"x":1.9,"y":5,"v":0.5},{"x":2.05,"y":5,"v":0.506},{"x":2.2,"y":5,"v":0.511},{"x":2.35,"y":5,"v":0.517},{"x":2.5,"y":5,"v":0.522},{"x":2.65,"y":5,"v":0.526},{"x":2.8,"y":5,"v":0.531},{"x":2.95,"y":5,"v":0.535},{"x":3.1,"y":5,"v":0.538},{"x":3.25,"y":5,"v":0.541},{"x":3.4,"y":5,"v":0.544},{"x":3.55,"y":5,"v":0.547},{"x":3.7,"y":5,"v":0.549},{"x":3.85,"y":5,"v":0.551},{"x":4,"y":5,"v":0.552},{"x":4.15,"y":5,"v":0.553},{"x":4.3,"y":5,"v":0.554},{"x":4.45,"y":5,"v":0.554},{"x":4.6,"y":5,"v":0.554},{"x":4.75,"y":5,"v":0.554},{"x":4.9,"y":5,"v":0.553},{"x":5.05,"y":5,"v":0.552},{"x":5.2,"y":5,"v":0.551},{"x":5.35,"y":5,"v":0.549},{"x":5.5,"y":5,"v":0.547},{"x":5.65,"y":5,"v":0.544},{"x":5.8,"y":5,"v":0.542},{"x":5.95,"y":5,"v":0.539},{"x":6.1,"y":5,"v":0.535},{"x":6.25,"y":5,"v":0.531},{"x":6.4,"y":5,"v":0.527},{"x":6.55,"y":5,"v":0.522},{"x":6.7,"y":5,"v":0.517},{"x":6.85,"y":5,"v":0.512},
{"x":1,"y":5.125,"v":0.457},{"x":1.15,"y":5.125,"v":0.465},{"x":1.3,"y":5.125,"v":0.473},{"x":1.45,"y":5.125,"v":0.48},{"x":1.6,"y":5.125,"v":0.487},{"x":1.75,"y":5.125,"v":0.494},{"x":1.9,"y":5.125,"v":0.501},{"x":2.05,"y":5.125,"v":0.507},{"x":2.2,"y":5.125,"v":0.512},{"x":2.35,"y":5.125,"v":0.518},{"x":2.5,"y":5.125,"v":0.523},{"x":2.65,"y":5.125,"v":0.527},{"x":2.8,"y":5.125,"v":0.531},{"x":2.95,"y":5.125,"v":0.535},{"x":3.1,"y":5.125,"v":0.539},{"x":3.25,"y":5.125,"v":0.542},{"x":3.4,"y":5.125,"v":0.545},{"x":3.55,"y":5.125,"v":0.548},{"x":3.7,"y":5.125,"v":0.55},{"x":3.85,"y":5.125,"v":0.551},{"x":4,"y":5.125,"v":0.553},{"x":4.15,"y":5.125,"v":0.554},{"x":4.3,"y":5.125,"v":0.555},{"x":4.45,"y":5.125,"v":0.555},{"x":4.6,"y":5.125,"v":0.555},{"x":4.75,"y":5.125,"v":0.555},{"x":4.9,"y":5.125,"v":0.554},{"x":5.05,"y":5.125,"v":0.553},{"x":5.2,"y":5.125,"v":0.552},{"x":5.35,"y":5.125,"v":0.55},{"x":5.5,"y":5.125,"v":0.548},{"x":5.65,"y":5.125,"v":0.545},{"x":5.8,"y":5.125,"v":0.543},{"x":5.95,"y":5.125,"v":0.539},{"x":6.1,"y":5.125,"v":0.536},{"x":6.25,"y":5.125,"v":0.532},{"x":6.4,"y":5.125,"v":0.528},{"x":6.55,"y":5.125,"v":0.523},{"x":6.7,"y":5.125,"v":0.518},{"x":6.85,"y":5.125,"v":0.513},
{"x":1,"y":5.25,"v":0.457},{"x":1.15,"y":5.25,"v":0.466},{"x":1.3,"y":5.25,"v":0.473},{"x":1.45,"y":5.25,"v":0.481},{"x":1.6,"y":5.25,"v":0.488},{"x":1.75,"y":5.25,"v":0.495},{"x":1.9,"y":5.25,"v":0.501},{"x":2.05,"y":5.25,"v":0.507},{"x":2.2,"y":5.25,"v":0.513},{"x":2.35,"y":5.25,"v":0.518},{"x":2.5,"y":5.25,"v":0.523},{"x":2.65,"y":5.25,"v":0.528},{"x":2.8,"y":5.25,"v":0.532},{"x":2.95,"y":5.25,"v":0.536},{"x":3.1,"y":5.25,"v":0.539},{"x":3.25,"y":5.25,"v":0.543},{"x":3.4,"y":5.25,"v":0.546},{"x":3.55,"y":5.25,"v":0.548},{"x":3.7,"y":5.25,"v":0.55},{"x":3.85,"y":5.25,"v":0.552},{"x":4,"y":5.25,"v":0.553},{"x":4.15,"y":5.25,"v":0.554},{"x":4.3,"y":5.25,"v":0.555},{"x":4.45,"y":5.25,"v":0.556},{"x":4.6,"y":5.25,"v":0.556},{"x":4.75,"y":5.25,"v":0.555},{"x":4.9,"y":5.25,"v":0.555},{"x":5.05,"y":5.25,"v":0.554},{"x":5.2,"y":5.25,"v":0.552},{"x":5.35,"y":5.25,"v":0.55},{"x":5.5,"y":5.25,"v":0.548},{"x":5.65,"y":5.25,"v":0.546},{"x":5.8,"y":5.25,"v":0.543},{"x":5.95,"y":5.25,"v":0.54},{"x":6.1,"y":5.25,"v":0.536},{"x":6.25,"y":5.25,"v":0.533},{"x":6.4,"y":5.25,"v":0.528},{"x":6.55,"y":5.25,"v":0.524},{"x":6.7,"y":5.25,"v":0.519},{"x":6.85,"y":5.25,"v":0.514},
{"x":1,"y":5.375,"v":0.458},{"x":1.15,"y":5.375,"v":0.466},{"x":1.3,"y":5.375,"v":0.474},{"x":1.45,"y":5.375,"v":0.481},{"x":1.6,"y":5.375,"v":0.488},{"x":1.75,"y":5.375,"v":0.495},{"x":1.9,"y":5.375,"v":0.501},{"x":2.05,"y":5.375,"v":0.507},{"x":2.2,"y":5.375,"v":0.513},{"x":2.35,"y":5.375,"v":0.518},{"x":2.5,"y":5.375,"v":0.523},{"x":2.65,"y":5.375,"v":0.528},{"x":2.8,"y":5.375,"v":0.532},{"x":2.95,"y":5.375,"v":0.536},{"x":3.1,"y":5.375,"v":0.54},{"x":3.25,"y":5.375,"v":0.543},{"x":3.4,"y":5.375,"v":0.546},{"x":3.55,"y":5.375,"v":0.548},{"x":3.7,"y":5.375,"v":0.55},{"x":3.85,"y":5.375,"v":0.552},{"x":4,"y":5.375,"v":0.554},{"x":4.15,"y":5.375,"v":0.555},{"x":4.3,"y":5.375,"v":0.556},{"x":4.45,"y":5.375,"v":0.556},{"x":4.6,"y":5.375,"v":0.556},{"x":4.75,"y":5.375,"v":0.556},{"x":4.9,"y":5.375,"v":0.555},{"x":5.05,"y":5.375,"v":0.554},{"x":5.2,"y":5.375,"v":0.552},{"x":5.35,"y":5.375,"v":0.551},{"x":5.5,"y":5.375,"v":0.549},{"x":5.65,"y":5.375,"v":0.546},{"x":5.8,"y":5.375,"v":0.543},{"x":5.95,"y":5.375,"v":0.54},{"x":6.1,"y":5.375,"v":0.537},{"x":6.25,"y":5.375,"v":0.533},{"x":6.4,"y":5.375,"v":0.529},{"x":6.55,"y":5.375,"v":0.524},{"x":6.7,"y":5.375,"v":0.519},{"x":6.85,"y":5.375,"v":0.514},
{"x":1,"y":5.5,"v":0.458},{"x":1.15,"y":5.5,"v":0.466},{"x":1.3,"y":5.5,"v":0.474},{"x":1.45,"y":5.5,"v":0.481},{"x":1.6,"y":5.5,"v":0.488},{"x":1.75,"y":5.5,"v":0.495},{"x":1.9,"y":5.5,"v":0.501},{"x":2.05,"y":5.5,"v":0.508},{"x":2.2,"y":5.5,"v":0.513},{"x":2.35,"y":5.5,"v":0.519},{"x":2.5,"y":5.5,"v":0.523},{"x":2.65,"y":5.5,"v":0.528},{"x":2.8,"y":5.5,"v":0.532},{"x":2.95,"y":5.5,"v":0.536},{"x":3.1,"y":5.5,"v":0.54},{"x":3.25,"y":5.5,"v":0.543},{"x":3.4,"y":5.5,"v":0.546},{"x":3.55,"y":5.5,"v":0.548},{"x":3.7,"y":5.5,"v":0.551},{"x":3.85,"y":5.5,"v":0.552},{"x":4,"y":5.5,"v":0.554},{"x":4.15,"y":5.5,"v":0.555},{"x":4.3,"y":5.5,"v":0.556},{"x":4.45,"y":5.5,"v":0.556},{"x":4.6,"y":5.5,"v":0.556},{"x":4.75,"y":5.5,"v":0.556},{"x":4.9,"y":5.5,"v":0.555},{"x":5.05,"y":5.5,"v":0.554},{"x":5.2,"y":5.5,"v":0.553},{"x":5.35,"y":5.5,"v":0.551},{"x":5.5,"y":5.5,"v":0.549},{"x":5.65,"y":5.5,"v":0.546},{"x":5.8,"y":5.5,"v":0.543},{"x":5.95,"y":5.5,"v":0.54},{"x":6.1,"y":5.5,"v":0.537},{"x":6.25,"y":5.5,"v":0.533},{"x":6.4,"y":5.5,"v":0.529},{"x":6.55,"y":5.5,"v":0.524},{"x":6.7,"y":5.5,"v":0.519},{"x":6.85,"y":5.5,"v":0.514},
{"x":1,"y":5.625,"v":0.458},{"x":1.15,"y":5.625,"v":0.466},{"x":1.3,"y":5.625,"v":0.474},{"x":1.45,"y":5.625,"v":0.481},{"x":1.6,"y":5.625,"v":0.488},{"x":1.75,"y":5.625,"v":0.495},{"x":1.9,"y":5.625,"v":0.501},{"x":2.05,"y":5.625,"v":0.507},{"x":2.2,"y":5.625,"v":0.513},{"x":2.35,"y":5.625,"v":0.518},{"x":2.5,"y":5.625,"v":0.523},{"x":2.65,"y":5.625,"v":0.528},{"x":2.8,"y":5.625,"v":0.532},{"x":2.95,"y":5.625,"v":0.536},{"x":3.1,"y":5.625,"v":0.54},{"x":3.25,"y":5.625,"v":0.543},{"x":3.4,"y":5.625,"v":0.546},{"x":3.55,"y":5.625,"v":0.548},{"x":3.7,"y":5.625,"v":0.55},{"x":3.85,"y":5.625,"v":0.552},{"x":4,"y":5.625,"v":0.554},{"x":4.15,"y":5.625,"v":0.555},{"x":4.3,"y":5.625,"v":0.555},{"x":4.45,"y":5.625,"v":0.556},{"x":4.6,"y":5.625,"v":0.556},{"x":4.75,"y":5.625,"v":0.555},{"x":4.9,"y":5.625,"v":0.555},{"x":5.05,"y":5.625,"v":0.554},{"x":5.2,"y":5.625,"v":0.552},{"x":5.35,"y":5.625,"v":0.551},{"x":5.5,"y":5.625,"v":0.549},{"x":5.65,"y":5.625,"v":0.546},{"x":5.8,"y":5.625,"v":0.543},{"x":5.95,"y":5.625,"v":0.54},{"x":6.1,"y":5.625,"v":0.537},{"x":6.25,"y":5.625,"v":0.533},{"x":6.4,"y":5.625,"v":0.529},{"x":6.55,"y":5.625,"v":0.524},{"x":6.7,"y":5.625,"v":0.519},{"x":6.85,"y":5.625,"v":0.514},
{"x":1,"y":5.75,"v":0.457},{"x":1.15,"y":5.75,"v":0.465},{"x":1.3,"y":5.75,"v":0.473},{"x":1.45,"y":5.75,"v":0.481},{"x":1.6,"y":5.75,"v":0.488},{"x":1.75,"y":5.75,"v":0.494},{"x":1.9,"y":5.75,"v":0.501},{"x":2.05,"y":5.75,"v":0.507},{"x":2.2,"y":5.75,"v":0.512},{"x":2.35,"y":5.75,"v":0.518},{"x":2.5,"y":5.75,"v":0.523},{"x":2.65,"y":5.75,"v":0.527},{"x":2.8,"y":5.75,"v":0.532},{"x":2.95,"y":5.75,"v":0.536},{"x":3.1,"y":5.75,"v":0.539},{"x":3.25,"y":5.75,"v":0.542},{"x":3.4,"y":5.75,"v":0.545},{"x":3.55,"y":5.75,"v":0.548},{"x":3.7,"y":5.75,"v":0.55},{"x":3.85,"y":5.75,"v":0.552},{"x":4,"y":5.75,"v":0.553},{"x":4.15,"y":5.75,"v":0.554},{"x":4.3,"y":5.75,"v":0.555},{"x":4.45,"y":5.75,"v":0.555},{"x":4.6,"y":5.75,"v":0.555},{"x":4.75,"y":5.75,"v":0.555},{"x":4.9,"y":5.75,"v":0.554},{"x":5.05,"y":5.75,"v":0.553},{"x":5.2,"y":5.75,"v":0.552},{"x":5.35,"y":5.75,"v":0.55},{"x":5.5,"y":5.75,"v":0.548},{"x":5.65,"y":5.75,"v":0.546},{"x":5.8,"y":5.75,"v":0.543},{"x":5.95,"y":5.75,"v":0.54},{"x":6.1,"y":5.75,"v":0.536},{"x":6.25,"y":5.75,"v":0.532},{"x":6.4,"y":5.75,"v":0.528},{"x":6.55,"y":5.75,"v":0.523},{"x":6.7,"y":5.75,"v":0.519},{"x":6.85,"y":5.75,"v":0.513},
{"x":1,"y":5.875,"v":0.456},{"x":1.15,"y":5.875,"v":0.464},{"x":1.3,"y":5.875,"v":0.472},{"x":1.45,"y":5.875,"v":0.48},{"x":1.6,"y":5.875,"v":0.487},{"x":1.75,"y":5.875,"v":0.494},{"x":1.9,"y":5.875,"v":0.5},{"x":2.05,"y":5.875,"v":0.506},{"x":2.2,"y":5.875,"v":0.512},{"x":2.35,"y":5.875,"v":0.517},{"x":2.5,"y":5.875,"v":0.522},{"x":2.65,"y":5.875,"v":0.527},{"x":2.8,"y":5.875,"v":0.531},{"x":2.95,"y":5.875,"v":0.535},{"x":3.1,"y":5.875,"v":0.538},{"x":3.25,"y":5.875,"v":0.542},{"x":3.4,"y":5.875,"v":0.544},{"x":3.55,"y":5.875,"v":0.547},{"x":3.7,"y":5.875,"v":0.549},{"x":3.85,"y":5.875,"v":0.551},{"x":4,"y":5.875,"v":0.552},{"x":4.15,"y":5.875,"v":0.553},{"x":4.3,"y":5.875,"v":0.554},{"x":4.45,"y":5.875,"v":0.554},{"x":4.6,"y":5.875,"v":0.555},{"x":4.75,"y":5.875,"v":0.554},{"x":4.9,"y":5.875,"v":0.554},{"x":5.05,"y":5.875,"v":0.552},{"x":5.2,"y":5.875,"v":0.551},{"x":5.35,"y":5.875,"v":0.549},{"x":5.5,"y":5.875,"v":0.547},{"x":5.65,"y":5.875,"v":0.545},{"x":5.8,"y":5.875,"v":0.542},{"x":5.95,"y":5.875,"v":0.539},{"x":6.1,"y":5.875,"v":0.535},{"x":6.25,"y":5.875,"v":0.531},{"x":6.4,"y":5.875,"v":0.527},{"x":6.55,"y":5.875,"v":0.523},{"x":6.7,"y":5.875,"v":0.518},{"x":6.85,"y":5.875,"v":0.512},
{"x":1,"y":6,"v":0.455},{"x":1.15,"y":6,"v":0.463},{"x":1.3,"y":6,"v":0.471},{"x":1.45,"y":6,"v":0.479},{"x":1.6,"y":6,"v":0.486},{"x":1.75,"y":6,"v":0.493},{"x":1.9,"y":6,"v":0.499},{"x":2.05,"y":6,"v":0.505},{"x":2.2,"y":6,"v":0.511},{"x":2.35,"y":6,"v":0.516},{"x":2.5,"y":6,"v":0.521},{"x":2.65,"y":6,"v":0.526},{"x":2.8,"y":6,"v":0.53},{"x":2.95,"y":6,"v":0.534},{"x":3.1,"y":6,"v":0.537},{"x":3.25,"y":6,"v":0.541},{"x":3.4,"y":6,"v":0.543},{"x":3.55,"y":6,"v":0.546},{"x":3.7,"y":6,"v":0.548},{"x":3.85,"y":6,"v":0.55},{"x":4,"y":6,"v":0.551},{"x":4.15,"y":6,"v":0.552},{"x":4.3,"y":6,"v":0.553},{"x":4.45,"y":6,"v":0.553},{"x":4.6,"y":6,"v":0.554},{"x":4.75,"y":6,"v":0.553},{"x":4.9,"y":6,"v":0.553},{"x":5.05,"y":6,"v":0.551},{"x":5.2,"y":6,"v":0.55},{"x":5.35,"y":6,"v":0.548},{"x":5.5,"y":6,"v":0.546},{"x":5.65,"y":6,"v":0.544},{"x":5.8,"y":6,"v":0.541},{"x":5.95,"y":6,"v":0.538},{"x":6.1,"y":6,"v":0.534},{"x":6.25,"y":6,"v":0.53},{"x":6.4,"y":6,"v":0.526},{"x":6.55,"y":6,"v":0.522},{"x":6.7,"y":6,"v":0.517},{"x":6.85,"y":6,"v":0.511},
{"x":1,"y":6.125,"v":0.454},{"x":1.15,"y":6.125,"v":0.462},{"x":1.3,"y":6.125,"v":0.47},{"x":1.45,"y":6.125,"v":0.477},{"x":1.6,"y":6.125,"v":0.485},{"x":1.75,"y":6.125,"v":0.491},{"x":1.9,"y":6.125,"v":0.498},{"x":2.05,"y":6.125,"v":0.504},{"x":2.2,"y":6.125,"v":0.509},{"x":2.35,"y":6.125,"v":0.515},{"x":2.5,"y":6.125,"v":0.52},{"x":2.65,"y":6.125,"v":0.524},{"x":2.8,"y":6.125,"v":0.529},{"x":2.95,"y":6.125,"v":0.533},{"x":3.1,"y":6.125,"v":0.536},{"x":3.25,"y":6.125,"v":0.539},{"x":3.4,"y":6.125,"v":0.542},{"x":3.55,"y":6.125,"v":0.545},{"x":3.7,"y":6.125,"v":0.547},{"x":3.85,"y":6.125,"v":0.549},{"x":4,"y":6.125,"v":0.55},{"x":4.15,"y":6.125,"v":0.551},{"x":4.3,"y":6.125,"v":0.552},{"x":4.45,"y":6.125,"v":0.552},{"x":4.6,"y":6.125,"v":0.552},{"x":4.75,"y":6.125,"v":0.552},{"x":4.9,"y":6.125,"v":0.551},{"x":5.05,"y":6.125,"v":0.55},{"x":5.2,"y":6.125,"v":0.549},{"x":5.35,"y":6.125,"v":0.547},{"x":5.5,"y":6.125,"v":0.545},{"x":5.65,"y":6.125,"v":0.542},{"x":5.8,"y":6.125,"v":0.54},{"x":5.95,"y":6.125,"v":0.537},{"x":6.1,"y":6.125,"v":0.533},{"x":6.25,"y":6.125,"v":0.529},{"x":6.4,"y":6.125,"v":0.525},{"x":6.55,"y":6.125,"v":0.52},{"x":6.7,"y":6.125,"v":0.515},{"x":6.85,"y":6.125,"v":0.51},
{"x":1,"y":6.25,"v":0.453},{"x":1.15,"y":6.25,"v":0.461},{"x":1.3,"y":6.25,"v":0.468},{"x":1.45,"y":6.25,"v":0.476},{"x":1.6,"y":6.25,"v":0.483},{"x":1.75,"y":6.25,"v":0.49},{"x":1.9,"y":6.25,"v":0.496},{"x":2.05,"y":6.25,"v":0.502},{"x":2.2,"y":6.25,"v":0.508},{"x":2.35,"y":6.25,"v":0.513},{"x":2.5,"y":6.25,"v":0.518},{"x":2.65,"y":6.25,"v":0.523},{"x":2.8,"y":6.25,"v":0.527},{"x":2.95,"y":6.25,"v":0.531},{"x":3.1,"y":6.25,"v":0.535},{"x":3.25,"y":6.25,"v":0.538},{"x":3.4,"y":6.25,"v":0.541},{"x":3.55,"y":6.25,"v":0.543},{"x":3.7,"y":6.25,"v":0.545},{"x":3.85,"y":6.25,"v":0.547},{"x":4,"y":6.25,"v":0.549},{"x":4.15,"y":6.25,"v":0.55},{"x":4.3,"y":6.25,"v":0.55},{"x":4.45,"y":6.25,"v":0.551},{"x":4.6,"y":6.25,"v":0.551},{"x":4.75,"y":6.25,"v":0.55},{"x":4.9,"y":6.25,"v":0.55},{"x":5.05,"y":6.25,"v":0.549},{"x":5.2,"y":6.25,"v":0.547},{"x":5.35,"y":6.25,"v":0.546},{"x":5.5,"y":6.25,"v":0.543},{"x":5.65,"y":6.25,"v":0.541},{"x":5.8,"y":6.25,"v":0.538},{"x":5.95,"y":6.25,"v":0.535},{"x":6.1,"y":6.25,"v":0.531},{"x":6.25,"y":6.25,"v":0.528},{"x":6.4,"y":6.25,"v":0.523},{"x":6.55,"y":6.25,"v":0.519},{"x":6.7,"y":6.25,"v":0.514},{"x":6.85,"y":6.25,"v":0.509},
{"x":1,"y":6.375,"v":0.451},{"x":1.15,"y":6.375,"v":0.459},{"x":1.3,"y":6.375,"v":0.467},{"x":1.45,"y":6.375,"v":0.474},{"x":1.6,"y":6.375,"v":0.481},{"x":1.75,"y":6.375,"v":0.488},{"x":1.9,"y":6.375,"v":0.494},{"x":2.05,"y":6.375,"v":0.5},{"x":2.2,"y":6.375,"v":0.506},{"x":2.35,"y":6.375,"v":0.511},{"x":2.5,"y":6.375,"v":0.516},{"x":2.65,"y":6.375,"v":0.521},{"x":2.8,"y":6.375,"v":0.525},{"x":2.95,"y":6.375,"v":0.529},{"x":3.1,"y":6.375,"v":0.533},{"x":3.25,"y":6.375,"v":0.536},{"x":3.4,"y":6.375,"v":0.539},{"x":3.55,"y":6.375,"v":0.541},{"x":3.7,"y":6.375,"v":0.543},{"x":3.85,"y":6.375,"v":0.545},{"x":4,"y":6.375,"v":0.547},{"x":4.15,"y":6.375,"v":0.548},{"x":4.3,"y":6.375,"v":0.549},{"x":4.45,"y":6.375,"v":0.549},{"x":4.6,"y":6.375,"v":0.549},{"x":4.75,"y":6.375,"v":0.549},{"x":4.9,"y":6.375,"v":0.548},{"x":5.05,"y":6.375,"v":0.547},{"x":5.2,"y":6.375,"v":0.545},{"x":5.35,"y":6.375,"v":0.544},{"x":5.5,"y":6.375,"v":0.542},{"x":5.65,"y":6.375,"v":0.539},{"x":5.8,"y":6.375,"v":0.536},{"x":5.95,"y":6.375,"v":0.533},{"x":6.1,"y":6.375,"v":0.53},{"x":6.25,"y":6.375,"v":0.526},{"x":6.4,"y":6.375,"v":0.522},{"x":6.55,"y":6.375,"v":0.517},{"x":6.7,"y":6.375,"v":0.512},{"x":6.85,"y":6.375,"v":0.507},
{"x":1,"y":6.5,"v":0.449},{"x":1.15,"y":6.5,"v":0.457},{"x":1.3,"y":6.5,"v":0.465},{"x":1.45,"y":6.5,"v":0.472},{"x":1.6,"y":6.5,"v":0.479},{"x":1.75,"y":6.5,"v":0.486},{"x":1.9,"y":6.5,"v":0.492},{"x":2.05,"y":6.5,"v":0.498},{"x":2.2,"y":6.5,"v":0.504},{"x":2.35,"y":6.5,"v":0.509},{"x":2.5,"y":6.5,"v":0.514},{"x":2.65,"y":6.5,"v":0.519},{"x":2.8,"y":6.5,"v":0.523},{"x":2.95,"y":6.5,"v":0.527},{"x":3.1,"y":6.5,"v":0.531},{"x":3.25,"y":6.5,"v":0.534},{"x":3.4,"y":6.5,"v":0.537},{"x":3.55,"y":6.5,"v":0.539},{"x":3.7,"y":6.5,"v":0.541},{"x":3.85,"y":6.5,"v":0.543},{"x":4,"y":6.5,"v":0.545},{"x":4.15,"y":6.5,"v":0.546},{"x":4.3,"y":6.5,"v":0.546},{"x":4.45,"y":6.5,"v":0.547},{"x":4.6,"y":6.5,"v":0.547},{"x":4.75,"y":6.5,"v":0.546},{"x":4.9,"y":6.5,"v":0.546},{"x":5.05,"y":6.5,"v":0.545},{"x":5.2,"y":6.5,"v":0.543},{"x":5.35,"y":6.5,"v":0.542},{"x":5.5,"y":6.5,"v":0.54},{"x":5.65,"y":6.5,"v":0.537},{"x":5.8,"y":6.5,"v":0.534},{"x":5.95,"y":6.5,"v":0.531},{"x":6.1,"y":6.5,"v":0.528},{"x":6.25,"y":6.5,"v":0.524},{"x":6.4,"y":6.5,"v":0.52},{"x":6.55,"y":6.5,"v":0.515},{"x":6.7,"y":6.5,"v":0.51},{"x":6.85,"y":6.5,"v":0.505},
{"x":1,"y":6.625,"v":0.446},{"x":1.15,"y":6.625,"v":0.454},{"x":1.3,"y":6.625,"v":0.462},{"x":1.45,"y":6.625,"v":0.47},{"x":1.6,"y":6.625,"v":0.477},{"x":1.75,"y":6.625,"v":0.484},{"x":1.9,"y":6.625,"v":0.49},{"x":2.05,"y":6.625,"v":0.496},{"x":2.2,"y":6.625,"v":0.502},{"x":2.35,"y":6.625,"v":0.507},{"x":2.5,"y":6.625,"v":0.512},{"x":2.65,"y":6.625,"v":0.517},{"x":2.8,"y":6.625,"v":0.521},{"x":2.95,"y":6.625,"v":0.525},{"x":3.1,"y":6.625,"v":0.528},{"x":3.25,"y":6.625,"v":0.532},{"x":3.4,"y":6.625,"v":0.534},{"x":3.55,"y":6.625,"v":0.537},{"x":3.7,"y":6.625,"v":0.539},{"x":3.85,"y":6.625,"v":0.541},{"x":4,"y":6.625,"v":0.542},{"x":4.15,"y":6.625,"v":0.543},{"x":4.3,"y":6.625,"v":0.544},{"x":4.45,"y":6.625,"v":0.544},{"x":4.6,"y":6.625,"v":0.545},{"x":4.75,"y":6.625,"v":0.544},{"x":4.9,"y":6.625,"v":0.544},{"x":5.05,"y":6.625,"v":0.542},{"x":5.2,"y":6.625,"v":0.541},{"x":5.35,"y":6.625,"v":0.539},{"x":5.5,"y":6.625,"v":0.537},{"x":5.65,"y":6.625,"v":0.535},{"x":5.8,"y":6.625,"v":0.532},{"x":5.95,"y":6.625,"v":0.529},{"x":6.1,"y":6.625,"v":0.525},{"x":6.25,"y":6.625,"v":0.521},{"x":6.4,"y":6.625,"v":0.517},{"x":6.55,"y":6.625,"v":0.513},{"x":6.7,"y":6.625,"v":0.508},{"x":6.85,"y":6.625,"v":0.502},
{"x":1,"y":6.75,"v":0.444},{"x":1.15,"y":6.75,"v":0.452},{"x":1.3,"y":6.75,"v":0.46},{"x":1.45,"y":6.75,"v":0.467},{"x":1.6,"y":6.75,"v":0.474},{"x":1.75,"y":6.75,"v":0.481},{"x":1.9,"y":6.75,"v":0.487},{"x":2.05,"y":6.75,"v":0.493},{"x":2.2,"y":6.75,"v":0.499},{"x":2.35,"y":6.75,"v":0.504},{"x":2.5,"y":6.75,"v":0.509},{"x":2.65,"y":6.75,"v":0.514},{"x":2.8,"y":6.75,"v":0.518},{"x":2.95,"y":6.75,"v":0.522},{"x":3.1,"y":6.75,"v":0.526},{"x":3.25,"y":6.75,"v":0.529},{"x":3.4,"y":6.75,"v":0.532},{"x":3.55,"y":6.75,"v":0.534},{"x":3.7,"y":6.75,"v":0.536},{"x":3.85,"y":6.75,"v":0.538},{"x":4,"y":6.75,"v":0.54},{"x":4.15,"y":6.75,"v":0.541},{"x":4.3,"y":6.75,"v":0.542},{"x":4.45,"y":6.75,"v":0.542},{"x":4.6,"y":6.75,"v":0.542},{"x":4.75,"y":6.75,"v":0.542},{"x":4.9,"y":6.75,"v":0.541},{"x":5.05,"y":6.75,"v":0.54},{"x":5.2,"y":6.75,"v":0.538},{"x":5.35,"y":6.75,"v":0.537},{"x":5.5,"y":6.75,"v":0.535},{"x":5.65,"y":6.75,"v":0.532},{"x":5.8,"y":6.75,"v":0.529},{"x":5.95,"y":6.75,"v":0.526},{"x":6.1,"y":6.75,"v":0.523},{"x":6.25,"y":6.75,"v":0.519},{"x":6.4,"y":6.75,"v":0.515},{"x":6.55,"y":6.75,"v":0.51},{"x":6.7,"y":6.75,"v":0.505},{"x":6.85,"y":6.75,"v":0.5},
{"x":1,"y":6.875,"v":0.441},{"x":1.15,"y":6.875,"v":0.449},{"x":1.3,"y":6.875,"v":0.457},{"x":1.45,"y":6.875,"v":0.464},{"x":1.6,"y":6.875,"v":0.471},{"x":1.75,"y":6.875,"v":0.478},{"x":1.9,"y":6.875,"v":0.485},{"x":2.05,"y":6.875,"v":0.491},{"x":2.2,"y":6.875,"v":0.496},{"x":2.35,"y":6.875,"v":0.502},{"x":2.5,"y":6.875,"v":0.507},{"x":2.65,"y":6.875,"v":0.511},{"x":2.8,"y":6.875,"v":0.515},{"x":2.95,"y":6.875,"v":0.519},{"x":3.1,"y":6.875,"v":0.523},{"x":3.25,"y":6.875,"v":0.526},{"x":3.4,"y":6.875,"v":0.529},{"x":3.55,"y":6.875,"v":0.532},{"x":3.7,"y":6.875,"v":0.534},{"x":3.85,"y":6.875,"v":0.535},{"x":4,"y":6.875,"v":0.537},{"x":4.15,"y":6.875,"v":0.538},{"x":4.3,"y":6.875,"v":0.539},{"x":4.45,"y":6.875,"v":0.539},{"x":4.6,"y":6.875,"v":0.539},{"x":4.75,"y":6.875,"v":0.539},{"x":4.9,"y":6.875,"v":0.538},{"x":5.05,"y":6.875,"v":0.537},{"x":5.2,"y":6.875,"v":0.536},{"x":5.35,"y":6.875,"v":0.534},{"x":5.5,"y":6.875,"v":0.532},{"x":5.65,"y":6.875,"v":0.529},{"x":5.8,"y":6.875,"v":0.527},{"x":5.95,"y":6.875,"v":0.523},{"x":6.1,"y":6.875,"v":0.52},{"x":6.25,"y":6.875,"v":0.516},{"x":6.4,"y":6.875,"v":0.512},{"x":6.55,"y":6.875,"v":0.507},{"x":6.7,"y":6.875,"v":0.502},{"x":6.85,"y":6.875,"v":0.497}
],
"closed":[
{"lev":"0.55","i":0,"x":5.496,"y":5.515},{"lev":"0.55","i":1,"x":5.466,"y":5.735},{"lev":"0.55","i":2,"x":5.378,"y":5.94},{"lev":"0.55","i":3,"x":5.238,"y":6.116},{"lev":"0.55","i":4,"x":5.055,"y":6.251},{"lev":"0.55","i":5,"x":4.842,"y":6.336},{"lev":"0.55","i":6,"x":4.614,"y":6.365},{"lev":"0.55","i":7,"x":4.386,"y":6.336},{"lev":"0.55","i":8,"x":4.173,"y":6.251},{"lev":"0.55","i":9,"x":3.99,"y":6.116},{"lev":"0.55","i":10,"x":3.85,"y":5.94},{"lev":"0.55","i":11,"x":3.762,"y":5.735},{"lev":"0.55","i":12,"x":3.732,"y":5.515},{"lev":"0.55","i":13,"x":3.762,"y":5.295},{"lev":"0.55","i":14,"x":3.85,"y":5.09},{"lev":"0.55","i":15,"x":3.99,"y":4.914},{"lev":"0.55","i":16,"x":4.173,"y":4.779},{"lev":"0.55","i":17,"x":4.386,"y":4.694},{"lev":"0.55","i":18,"x":4.614,"y":4.665},{"lev":"0.55","i":19,"x":4.842,"y":4.694},{"lev":"0.55","i":20,"x":5.055,"y":4.779},{"lev":"0.55","i":21,"x":5.238,"y":4.914},{"lev":"0.55","i":22,"x":5.378,"y":5.09},{"lev":"0.55","i":23,"x":5.466,"y":5.295},
{"lev":"0.5","i":0,"x":7.28,"y":5.52},{"lev":"0.5","i":1,"x":7.239,"y":5.966},{"lev":"0.5","i":2,"x":7.119,"y":6.399},{"lev":"0.5","i":3,"x":6.922,"y":6.805},{"lev":"0.5","i":4,"x":6.655,"y":7.172},{"lev":"0.5","i":5,"x":6.326,"y":7.489},{"lev":"0.5","i":6,"x":5.945,"y":7.746},{"lev":"0.5","i":7,"x":5.523,"y":7.935},{"lev":"0.5","i":8,"x":5.074,"y":8.051},{"lev":"0.5","i":9,"x":4.61,"y":8.09},{"lev":"0.5","i":10,"x":4.146,"y":8.051},{"lev":"0.5","i":11,"x":3.697,"y":7.935},{"lev":"0.5","i":12,"x":3.275,"y":7.746},{"lev":"0.5","i":13,"x":2.894,"y":7.489},{"lev":"0.5","i":14,"x":2.565,"y":7.172},{"lev":"0.5","i":15,"x":2.298,"y":6.805},{"lev":"0.5","i":16,"x":2.101,"y":6.399},{"lev":"0.5","i":17,"x":1.981,"y":5.966},{"lev":"0.5","i":18,"x":1.94,"y":5.52},{"lev":"0.5","i":19,"x":1.981,"y":5.074},{"lev":"0.5","i":20,"x":2.101,"y":4.641},{"lev":"0.5","i":21,"x":2.298,"y":4.235},{"lev":"0.5","i":22,"x":2.565,"y":3.868},{"lev":"0.5","i":23,"x":2.894,"y":3.551},{"lev":"0.5","i":24,"x":3.275,"y":3.294},{"lev":"0.5","i":25,"x":3.697,"y":3.105},{"lev":"0.5","i":26,"x":4.146,"y":2.989},{"lev":"0.5","i":27,"x":4.61,"y":2.95},{"lev":"0.5","i":28,"x":5.074,"y":2.989},{"lev":"0.5","i":29,"x":5.523,"y":3.105},{"lev":"0.5","i":30,"x":5.945,"y":3.294},{"lev":"0.5","i":31,"x":6.326,"y":3.551},{"lev":"0.5","i":32,"x":6.655,"y":3.868},{"lev":"0.5","i":33,"x":6.922,"y":4.235},{"lev":"0.5","i":34,"x":7.119,"y":4.641},{"lev":"0.5","i":35,"x":7.239,"y":5.074}
],
"open":[
{"lev":"0.45","i":0,"x":1.797,"y":7.789},{"lev":"0.45","i":1,"x":1.43,"y":7.285},{"lev":"0.45","i":2,"x":1.159,"y":6.727},{"lev":"0.45","i":3,"x":0.994,"y":6.133},{"lev":"0.45","i":4,"x":0.938,"y":5.52},{"lev":"0.45","i":5,"x":0.994,"y":4.907},{"lev":"0.45","i":6,"x":1.159,"y":4.313},{"lev":"0.45","i":7,"x":1.43,"y":3.755},{"lev":"0.45","i":8,"x":1.797,"y":3.251},{"lev":"0.45","i":9,"x":2.25,"y":2.816},{"lev":"0.45","i":10,"x":2.774,"y":2.463},{"lev":"0.45","i":11,"x":3.354,"y":2.203},{"lev":"0.45","i":12,"x":3.973,"y":2.044},{"lev":"0.45","i":13,"x":4.61,"y":1.99},{"lev":"0.45","i":14,"x":5.247,"y":2.044},{"lev":"0.45","i":15,"x":5.866,"y":2.203},{"lev":"0.45","i":16,"x":6.446,"y":2.463},{"lev":"0.45","i":17,"x":6.97,"y":2.816},{"lev":"0.45","i":18,"x":7.423,"y":3.251},
{"lev":"0.4","i":0,"x":0.424,"y":4.048},{"lev":"0.4","i":1,"x":0.752,"y":3.368},{"lev":"0.4","i":2,"x":0.96,"y":3.051},{"lev":"0.4","i":3,"x":1.197,"y":2.753},{"lev":"0.4","i":4,"x":1.46,"y":2.477},{"lev":"0.4","i":5,"x":1.746,"y":2.223},{"lev":"0.4","i":6,"x":2.055,"y":1.994},{"lev":"0.4","i":7,"x":2.382,"y":1.793},{"lev":"0.4","i":8,"x":3.086,"y":1.476}
],
"labels":[
{"x":1.145,"y":6.73,"lab":"0.45"},
{"x":6.89,"y":6.92,"lab":"0.5"},
{"x":4.37,"y":4.76,"lab":"0.55"},
{"x":3.085,"y":3.467,"lab":"0.5"},
{"x":2.1,"y":3.0,"lab":"0.45"},
{"x":1.445,"y":2.565,"lab":"0.4"},
{"x":6.09,"y":2.357,"lab":"0.45"}
],
"flag":[{"x":5.05,"y":4.0}]
},
"hconcat":[
{
"width":114,"height":584,
"view":{"stroke":null},
"data":{"name":"legend"},
"encoding":{
"x":{"field":"g","type":"nominal","scale":{"type":"point","domain":["a","b","c"],"padding":0},"axis":null},
"y":{"field":"line","type":"quantitative","scale":{"domain":[0.643,17.263],"reverse":true,"nice":false,"zero":false},"axis":null}
},
"layer":[
{"transform":[{"filter":"datum.k === 'bar'"}],
"mark":{"type":"point","shape":"M-0.71,-1H3.29V1H-0.71Z","size":961,"filled":true,"opacity":1,"stroke":"#000","strokeWidth":1,
"fill":{"gradient":"linear","stops":[{"offset":0,"color":"#0000ff"},{"offset":0.5,"color":"#00ff00"},{"offset":1,"color":"#d02000"}]}}},
{"transform":[{"filter":"datum.k !== 'bar' && datum.k !== 'head'"}],
"mark":{"type":"text","align":"left","baseline":"middle","fontSize":17,"font":"Roboto"},
"encoding":{"text":{"field":"t"},
"color":{"condition":[{"test":"datum.k === 'low'","value":"#0000ff"},{"test":"datum.k === 'high'","value":"#ff0000"}],"value":"#1a1a1a"}}},
{"transform":[{"filter":"datum.k === 'head'"}],
"mark":{"type":"text","align":"left","baseline":"middle","fontSize":17,"font":"Roboto","fontWeight":"bold","color":"#1a1a1a"},
"encoding":{"text":{"field":"t"}}}
]
},
{
"width":456,"height":584,
"title":{"text":"ACTIVITY (U/ml)","fontSize":12,"fontWeight":"normal","color":"#1a1a1a","offset":1,"anchor":"middle","frame":"group"},
"view":{"stroke":"#000","strokeWidth":1},
"layer":[
{"data":{"name":"grid"},
"mark":{"type":"rect","binSpacing":0,"strokeWidth":0.6},
"encoding":{
"x":{"field":"x","type":"quantitative","bin":{"binned":true,"step":0.15},"scale":{"domain":[1,7],"nice":false,"zero":false},"axis":{"values":[1,2,3,4,5,6,7],"format":"d","title":"A: Fermentation duration (Days)"}},
"y":{"field":"y","type":"quantitative","bin":{"binned":true,"step":0.125},"scale":{"domain":[2,7],"nice":false,"zero":false},"axis":{"values":[2,3,4,5,6,7],"format":"d","title":"B: pH"}},
"color":{"field":"v","type":"quantitative","scale":{"domain":[0.283,0.35975,0.4365,0.51325,0.59],"range":["#0000ff","#00ffff","#00ff00","#ffff00","#ff0000"],"interpolate":"rgb","clamp":true},"legend":null},
"stroke":{"field":"v","type":"quantitative","scale":{"domain":[0.283,0.35975,0.4365,0.51325,0.59],"range":["#0000ff","#00ffff","#00ff00","#ffff00","#ff0000"],"interpolate":"rgb","clamp":true},"legend":null}
}},
{"data":{"name":"closed"},
"mark":{"type":"line","interpolate":"cardinal-closed","clip":true,"color":"#111","strokeWidth":1},
"encoding":{
"x":{"field":"x","type":"quantitative","axis":{"values":[1,2,3,4,5,6,7],"format":"d","title":"A: Fermentation duration (Days)"}},
"y":{"field":"y","type":"quantitative","axis":{"values":[2,3,4,5,6,7],"format":"d","title":"B: pH"}},
"detail":{"field":"lev"},
"order":{"field":"i","type":"quantitative"}
}},
{"data":{"name":"open"},
"mark":{"type":"line","interpolate":"cardinal","clip":true,"color":"#111","strokeWidth":1},
"encoding":{
"x":{"field":"x","type":"quantitative","axis":{"values":[1,2,3,4,5,6,7],"format":"d","title":"A: Fermentation duration (Days)"}},
"y":{"field":"y","type":"quantitative","axis":{"values":[2,3,4,5,6,7],"format":"d","title":"B: pH"}},
"detail":{"field":"lev"},
"order":{"field":"i","type":"quantitative"}
}},
{"data":{"name":"labels"},
"mark":{"type":"point","filled":true,"fill":"#ffffff","stroke":"#000","strokeWidth":1,"size":169,"opacity":1},
"encoding":{
"x":{"field":"x","type":"quantitative","axis":{"values":[1,2,3,4,5,6,7],"format":"d","title":"A: Fermentation duration (Days)"}},
"y":{"field":"y","type":"quantitative","axis":{"values":[2,3,4,5,6,7],"format":"d","title":"B: pH"}},
"shape":{"field":"lab","type":"nominal","scale":{"domain":["0.4","0.45","0.5","0.55"],"range":["M-1.23,-1H1.23V1H-1.23Z","M-1.46,-1H1.46V1H-1.46Z","M-1.23,-1H1.23V1H-1.23Z","M-1.46,-1H1.46V1H-1.46Z"]},"legend":null}
}},
{"data":{"name":"labels"},
"mark":{"type":"text","fontSize":9,"color":"#111","baseline":"middle","align":"center"},
"encoding":{
"x":{"field":"x","type":"quantitative","axis":{"values":[1,2,3,4,5,6,7],"format":"d","title":"A: Fermentation duration (Days)"}},
"y":{"field":"y","type":"quantitative","axis":{"values":[2,3,4,5,6,7],"format":"d","title":"B: pH"}},
"text":{"field":"lab"}
}},
{"data":{"name":"flag"},
"mark":{"type":"point","shape":"M0,0V-4.2M0,-4.2L1.6,-3.5L0,-2.8Z","size":100,"filled":false,"fill":"#ffffff","stroke":"#808080","strokeWidth":1.5,"opacity":1},
"encoding":{
"x":{"field":"x","type":"quantitative","axis":{"values":[1,2,3,4,5,6,7],"format":"d","title":"A: Fermentation duration (Days)"}},
"y":{"field":"y","type":"quantitative","axis":{"values":[2,3,4,5,6,7],"format":"d","title":"B: pH"}}
}},
{"data":{"name":"flag"},
"mark":{"type":"point","shape":"circle","size":14,"filled":true,"color":"#808080","opacity":1},
"encoding":{
"x":{"field":"x","type":"quantitative","axis":{"values":[1,2,3,4,5,6,7],"format":"d","title":"A: Fermentation duration (Days)"}},
"y":{"field":"y","type":"quantitative","axis":{"values":[2,3,4,5,6,7],"format":"d","title":"B: pH"}}
}}
]
}
]
}
